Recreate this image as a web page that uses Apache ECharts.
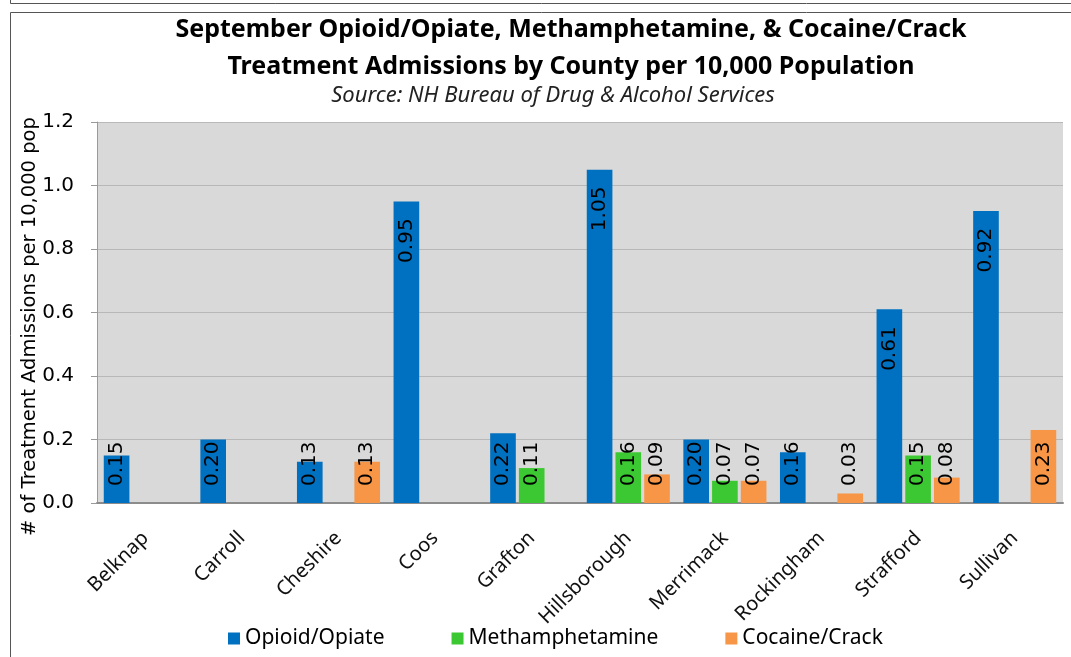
<!DOCTYPE html>
<html>
<head>
<meta charset="utf-8">
<title>NH Treatment Admissions by County</title>
<script src="https://cdn.jsdelivr.net/npm/echarts@6/dist/echarts.min.js"></script>
<style>
  html, body { margin: 0; padding: 0; background: #fff; }
  #chart { width: 1071px; height: 657px; }
</style>
</head>
<body>
<div id="chart"></div>
<script>
// 数据
const counties = ['Belknap', 'Carroll', 'Cheshire', 'Coos', 'Grafton', 'Hillsborough', 'Merrimack', 'Rockingham', 'Strafford', 'Sullivan']
const opioid = [0.15, 0.20, 0.13, 0.95, 0.22, 1.05, 0.20, 0.16, 0.61, 0.92]
const meth = [null, null, null, null, 0.11, 0.16, 0.07, null, 0.15, null]
const cocaine = [null, null, 0.13, null, null, 0.09, 0.07, 0.03, 0.08, 0.23]
const yTicks = [0, 0.2, 0.4, 0.6, 0.8, 1.0, 1.2]

const colors = ['#0070C0', '#3CC832', '#F79646']
const names = ['Opioid/Opiate', 'Methamphetamine', 'Cocaine/Crack']

const CAT_GAP = 0.14
const BAR_GAP = 0.12

const chart = echarts.init(document.getElementById('chart'))

// 柱图
const bars = [opioid, meth, cocaine].map((vals, i) => ({
  name: names[i],
  type: 'bar',
  data: vals,
  barGap: BAR_GAP * 100 + '%',
  barCategoryGap: CAT_GAP * 100 + '%',
  itemStyle: { color: colors[i] }
}))

// 数值标签 (竖排): 矮柱贴底, 高柱贴顶
const labels = [opioid, meth, cocaine].map((vals, i) => ({
  name: 'label-' + i,
  type: 'custom',
  silent: true,
  z: 5,
  data: vals.map((v, k) => [k, v]).filter(d => d[1] !== null),
  renderItem: (params, api) => {
    const cat = api.value(0)
    const v = api.value(1)
    const base = api.coord([cat, 0])
    const top = api.coord([cat, v])
    const band = api.size([1, 0])[0]
    const groupW = band * (1 - CAT_GAP)
    const w = groupW / (3 + 2 * BAR_GAP)
    const cx = base[0] - groupW / 2 + w / 2 + i * w * (1 + BAR_GAP)
    const small = v < 0.25
    return {
      type: 'text',
      x: cx,
      y: small ? base[1] - 17 : top[1] + 17,
      rotation: Math.PI / 2,
      style: {
        text: v.toFixed(2),
        align: small ? 'left' : 'right',
        verticalAlign: 'middle',
        font: '20px "DejaVu Sans"',
        fill: '#000'
      }
    }
  }
}))

const option = {
  animation: false,
  backgroundColor: '#fff',
  title: [
    {
      text: 'September Opioid/Opiate, Methamphetamine, & Cocaine/Crack\nTreatment Admissions by County per 10,000 Population',
      left: 566,
      textAlign: 'center',
      top: 6,
      textStyle: { fontFamily: 'Noto Sans', fontSize: 25, fontWeight: 'bold', color: '#000', lineHeight: 37 }
    },
    {
      text: 'Source: NH Bureau of Drug & Alcohol Services',
      left: 548,
      textAlign: 'center',
      top: 80,
      textStyle: { fontFamily: 'Noto Sans', fontSize: 22, fontStyle: 'italic', fontWeight: 'normal', color: '#222' }
    }
  ],
  legend: {
    data: names,
    bottom: 3,
    left: 223,
    icon: 'rect',
    itemWidth: 12,
    itemHeight: 12,
    itemGap: 67,
    textStyle: { fontFamily: 'Noto Sans', fontSize: 21, color: '#000' }
  },
  grid: {
    left: 97,
    right: 8,
    top: 122,
    bottom: 154,
    show: true,
    backgroundColor: '#D9D9D9',
    borderWidth: 0
  },
  xAxis: {
    type: 'category',
    data: counties,
    axisLine: { show: true, lineStyle: { color: '#8c8c8c', width: 2 } },
    axisTick: { show: false },
    axisLabel: {
      rotate: 45,
      margin: 32,
      interval: 0,
      fontFamily: 'Noto Sans',
      fontSize: 20,
      color: '#111'
    }
  },
  yAxis: {
    type: 'value',
    min: yTicks[0],
    max: yTicks[yTicks.length - 1],
    interval: 0.2,
    name: '# of Treatment Admissions per 10,000 pop',
    nameLocation: 'middle',
    nameGap: 57,
    nameMoveOverlap: false,
    nameTextStyle: { fontFamily: 'DejaVu Sans', fontSize: 19.5, color: '#000', padding: [0, 28, 0, 0] },
    axisLine: { show: true, lineStyle: { color: '#9a9a9a' } },
    axisTick: { show: true, length: 6, lineStyle: { color: '#9a9a9a' } },
    axisLabel: {
      margin: 23,
      fontFamily: 'DejaVu Sans',
      fontSize: 20,
      color: '#000',
      formatter: v => v.toFixed(1)
    },
    splitLine: { show: true, lineStyle: { color: '#b8b8b8' } }
  },
  graphic: [
    { type: 'rect', left: 8, top: -20, shape: { width: 1100, height: 21 }, style: { fill: 'none', stroke: '#555', lineWidth: 1 }, silent: true },
    { type: 'rect', left: 8, top: 10, shape: { width: 1100, height: 700 }, style: { fill: 'none', stroke: '#555', lineWidth: 1 }, silent: true }
  ],
  series: bars.concat(labels)
}

chart.setOption(option)
</script>
</body>
</html>
